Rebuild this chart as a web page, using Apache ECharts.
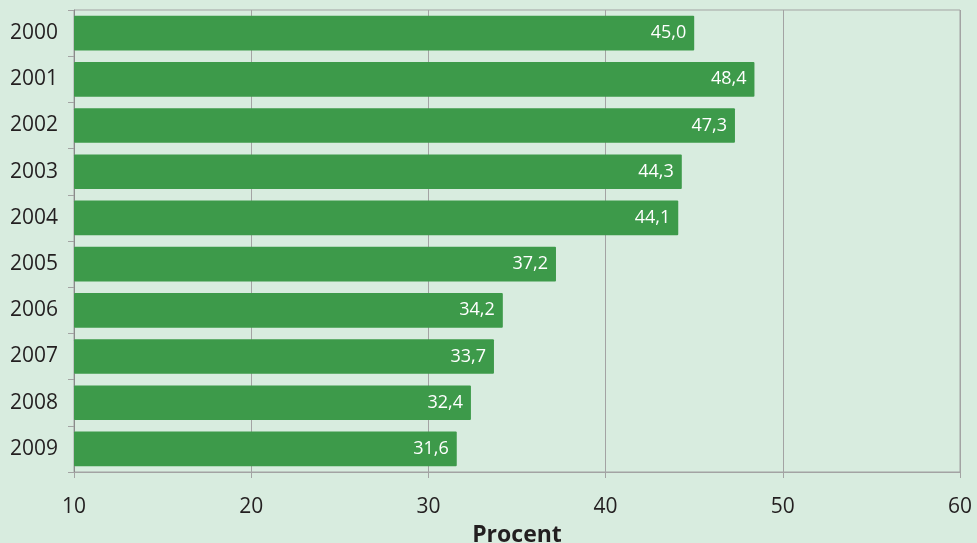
<!DOCTYPE html>
<html>
<head>
<meta charset="utf-8">
<script src="https://cdn.jsdelivr.net/npm/echarts@6/dist/echarts.min.js"></script>
<style>
html,body{margin:0;padding:0;background:#d8ecdf;}
#c{width:977px;height:543px;}
</style>
</head>
<body>
<div id="c"></div>
<script>
const years = ['2000','2001','2002','2003','2004','2005','2006','2007','2008','2009'];
const values = [45.0, 48.4, 47.3, 44.3, 44.1, 37.2, 34.2, 33.7, 32.4, 31.6];
const axisTitle = 'Procent';

const chart = echarts.init(document.getElementById('c'));
const font = '"Open Sans", "Noto Sans", sans-serif';
chart.setOption({
  backgroundColor: '#d8ecdf',
  animation: false,
  grid: {left: 74, right: 17, top: 10, bottom: 71, show: true, borderColor: '#a3a3a3', borderWidth: 1,
    containLabel: false, outerBoundsMode: 'none'},
  xAxis: {
    type: 'value', min: 10, max: 60, interval: 10,
    name: axisTitle, nameLocation: 'middle', nameGap: 52,
    nameTextStyle: {fontFamily: font, fontSize: 23, fontWeight: 'bold', color: '#231f20'},
    axisLine: {show: true, lineStyle: {color: '#a3a3a3'}},
    axisTick: {show: true, length: 6, lineStyle: {color: '#a3a3a3'}},
    axisLabel: {fontFamily: font, fontSize: 21, color: '#231f20', margin: 25},
    splitLine: {show: true, lineStyle: {color: '#a3a3a3'}}
  },
  yAxis: {
    type: 'category', data: years, inverse: true,
    axisLine: {show: true, lineStyle: {color: '#8a8a8a'}},
    axisTick: {show: true, length: 6, lineStyle: {color: '#a3a3a3'}},
    axisLabel: {fontFamily: font, fontSize: 21, color: '#231f20', margin: 16}
  },
  series: [{
    type: 'bar', data: values, barCategoryGap: '25%',
    itemStyle: {color: '#3d9a4a', borderRadius: 1},
    label: {show: true, position: 'insideRight', distance: 8, color: '#ffffff',
      fontFamily: font, fontSize: 18,
      formatter: p => p.value.toFixed(1).replace('.', ',')}
  }]
});
</script>
</body>
</html>
